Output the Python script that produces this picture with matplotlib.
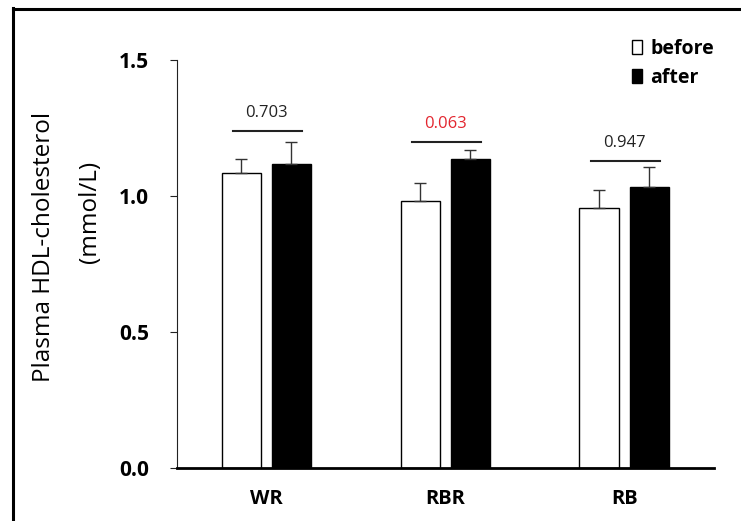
import matplotlib
matplotlib.use("Agg")
import matplotlib.pyplot as plt
from matplotlib.lines import Line2D
import numpy as np

plt.rcParams["font.family"] = ["Open Sans", "DejaVu Sans"]

groups = ["WR", "RBR", "RB"]
before = [1.083, 0.980, 0.957]
before_err = [0.052, 0.068, 0.064]
after = [1.119, 1.137, 1.033]
after_err = [0.080, 0.032, 0.074]
p_values = ["0.703", "0.063", "0.947"]
p_colors = ["#222222", "#e3262f", "#222222"]
bracket_y = [1.239, 1.199, 1.129]
yticks = [0.0, 0.5, 1.0, 1.5]

fig = plt.figure(figsize=(7.41, 5.21), dpi=100)
ax = fig.add_axes([177 / 741, 1 - 468 / 521, (713.6 - 177) / 741, (468 - 60) / 521])

x = np.arange(len(groups))
w = 0.22
off = 0.14
ekw = dict(ecolor="#333333", elinewidth=1.0, capthick=1.0)
ax.bar(x - off, before, w, color="white", edgecolor="black", linewidth=1.0,
       yerr=[np.zeros(3), before_err], capsize=4, error_kw=ekw, label="before")
ax.bar(x + off, after, w, color="black", edgecolor="black", linewidth=1.0,
       yerr=[np.zeros(3), after_err], capsize=4, error_kw=ekw, label="after")

# p-value brackets
for i, (p, c, yb) in enumerate(zip(p_values, p_colors, bracket_y)):
    ax.plot([i - 0.185, i + 0.2], [yb, yb], color="#222222", lw=1.5)
    ax.annotate(p, (i, yb), xytext=(0, 13), textcoords="offset points",
                ha="center", va="center", fontsize=12, color=c)

ax.set_xlim(-0.5, 2.5)
ax.set_ylim(0, 1.5)
ax.set_yticks(yticks)
ax.set_yticklabels([f"{t:.1f}" for t in yticks], fontsize=15, fontweight="bold")
ax.set_xticks(x)
ax.set_xticklabels(groups, fontsize=14.5, fontweight="bold")
ax.tick_params(axis="y", length=5, width=0.8, direction="out", pad=15, colors="#222222")
ax.tick_params(axis="x", length=0, pad=15)
for lab in ax.get_yticklabels() + ax.get_xticklabels():
    lab.set_color("black")
ax.spines["top"].set_visible(False)
ax.spines["right"].set_visible(False)
ax.spines["left"].set_linewidth(0.8)
ax.spines["left"].set_color("#222222")
ax.spines["bottom"].set_linewidth(2.0)

fig.text(44 / 741, 1 - 247 / 521, "Plasma HDL-cholesterol", rotation=90,
         ha="center", va="center", fontsize=17.5)
fig.text(90 / 741, 1 - 212 / 521, "(mmol/L)", rotation=90,
         ha="center", va="center", fontsize=17.5)

leg = ax.legend(loc="upper right", bbox_to_anchor=(722 / 741, 1 - 31 / 521),
                bbox_transform=fig.transFigure, frameon=False,
                prop={"weight": "bold", "size": 14}, handlelength=0.5,
                handleheight=0.75, handletextpad=0.45, labelspacing=0.45,
                borderaxespad=0)

# outer frame (top and left edges visible in the source)
fig.add_artist(Line2D([13 / 741, 1], [1 - 8.5 / 521, 1 - 8.5 / 521],
                      transform=fig.transFigure, color="black", lw=2.2))
fig.add_artist(Line2D([13.5 / 741, 13.5 / 741], [0, 1 - 7.5 / 521],
                      transform=fig.transFigure, color="black", lw=2.2))

fig.savefig("out.png", dpi=100)
